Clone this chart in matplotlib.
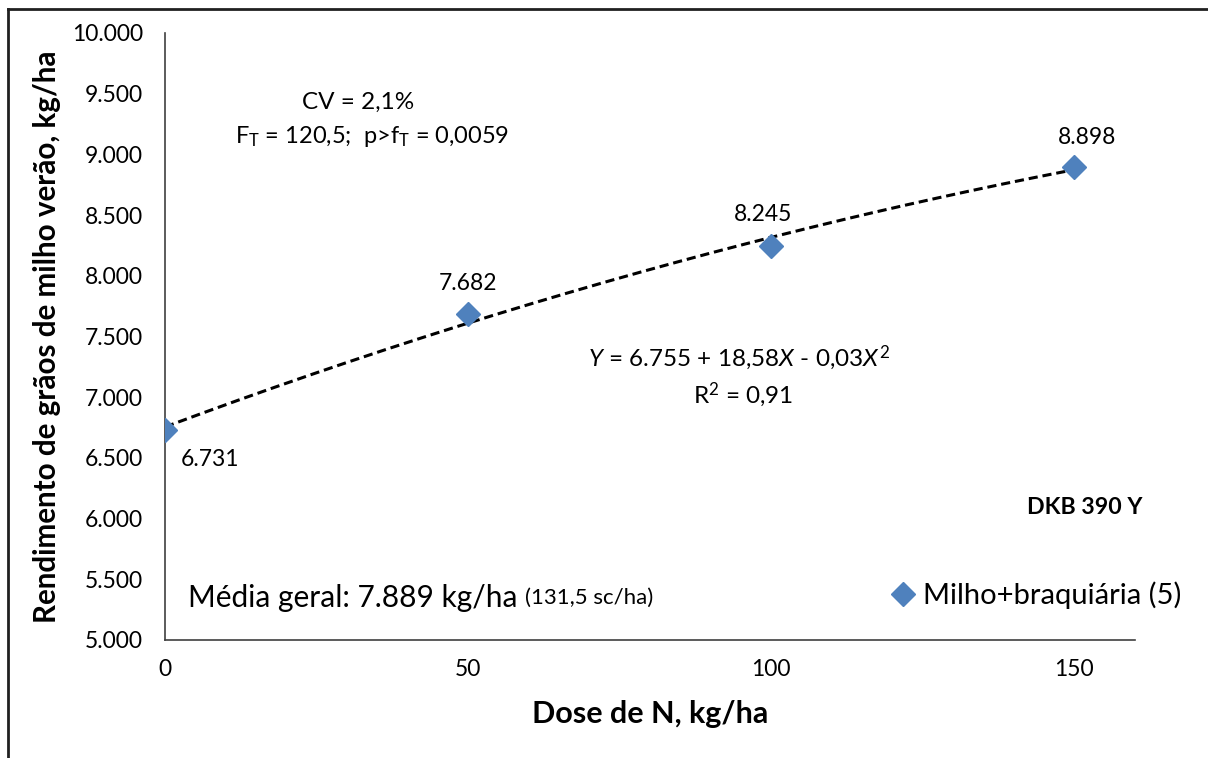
import matplotlib
matplotlib.use("Agg")
import matplotlib.pyplot as plt
import numpy as np
from matplotlib.lines import Line2D

# Data
doses = [0, 50, 100, 150]
rendimento = [6731, 7682, 8245, 8898]
data_labels = ["6.731", "7.682", "8.245", "8.898"]
y_ticks = [5000, 5500, 6000, 6500, 7000, 7500, 8000, 8500, 9000, 9500, 10000]
y_ticklabels = ["5.000", "5.500", "6.000", "6.500", "7.000", "7.500",
                "8.000", "8.500", "9.000", "9.500", "10.000"]
x_ticks = [0, 50, 100, 150]

plt.rcParams["font.family"] = ["Lato", "DejaVu Sans"]
plt.rcParams["mathtext.fontset"] = "custom"
plt.rcParams["mathtext.rm"] = "Lato"
plt.rcParams["mathtext.it"] = "Lato:italic"

blue = "#4F81BD"

fig = plt.figure(figsize=(12.08, 7.58), dpi=100)
ax = fig.add_axes([0.1366, 0.1557, 0.8030, 0.8008])

# Quadratic trendline fitted to the points
coef = np.polyfit(doses, rendimento, 2)
xs = np.linspace(0, 150, 200)
ax.plot(xs, np.polyval(coef, xs), color="black", linestyle=(0, (3, 1.6)), lw=2.2, zorder=2)

ax.plot(doses, rendimento, linestyle="none", marker="D", markersize=12,
        color=blue, label="Milho+braquiária (5)", zorder=3)

# Data labels
offsets = [(11, -21), (0, 22), (-6, 23), (9, 21)]
for x, y, lab, (dx, dy) in zip(doses, rendimento, data_labels, offsets):
    ax.annotate(lab, (x, y), xytext=(dx, dy), textcoords="offset points",
                ha="left" if x == 0 else "center", va="center", fontsize=16.5)

ax.set_xlim(0, 160)
ax.set_ylim(5000, 10000)
ax.set_xticks(x_ticks)
ax.set_yticks(y_ticks)
ax.set_yticklabels(y_ticklabels)
ax.tick_params(length=0, labelsize=16.5)
ax.tick_params(axis="y", pad=16)
ax.tick_params(axis="x", pad=14)

for s in ["top", "right"]:
    ax.spines[s].set_visible(False)
for s in ["left", "bottom"]:
    ax.spines[s].set_color("#404040")
    ax.spines[s].set_linewidth(1.2)

ax.set_xlabel("Dose de N, kg/ha", fontsize=22, fontweight="bold", labelpad=14)
ax.set_ylabel("Rendimento de grãos de milho verão, kg/ha", fontsize=21.3,
              fontweight="bold", labelpad=8)

# Annotations
ax.text(0.199, 0.885, "CV = 2,1%", transform=ax.transAxes, ha="center",
        va="center", fontsize=17.5)
ax.text(0.214, 0.829, r"F$_\mathrm{T}$ = 120,5;  p>f$_\mathrm{T}$ = 0,0059",
        transform=ax.transAxes, ha="center", va="center", fontsize=17)
ax.text(0.592, 0.465, r"$\mathit{Y}$ = 6.755 + 18,58$\mathit{X}$ - 0,03$\mathit{X}^2$",
        transform=ax.transAxes, ha="center", va="center", fontsize=17.5)
ax.text(0.596, 0.404, r"R$^2$ = 0,91", transform=ax.transAxes, ha="center",
        va="center", fontsize=17.5)
ax.text(0.948, 0.219, "DKB 390 Y", transform=ax.transAxes, ha="center",
        va="center", fontsize=16.7, fontweight="bold")
t = ax.text(0.0237, 0.069, "Média geral: 7.889 kg/ha ", transform=ax.transAxes,
            ha="left", va="center", fontsize=21.5)
ax.annotate("(131,5 sc/ha)", xycoords=t, xy=(1, 0.5), ha="left", va="center",
            fontsize=16)

ax.legend(loc="center left", bbox_to_anchor=(0.735, 0.073), frameon=False,
          fontsize=21, handlelength=0.7, handletextpad=0.35, borderpad=0)

# Outer frame (top and left edges)
fig.add_artist(Line2D([8 / 1208, 1], [1 - 9 / 758, 1 - 9 / 758], color="#202020", lw=2))
fig.add_artist(Line2D([8 / 1208, 8 / 1208], [0, 1 - 9 / 758], color="#202020", lw=2))

fig.savefig("out.png", dpi=100)
